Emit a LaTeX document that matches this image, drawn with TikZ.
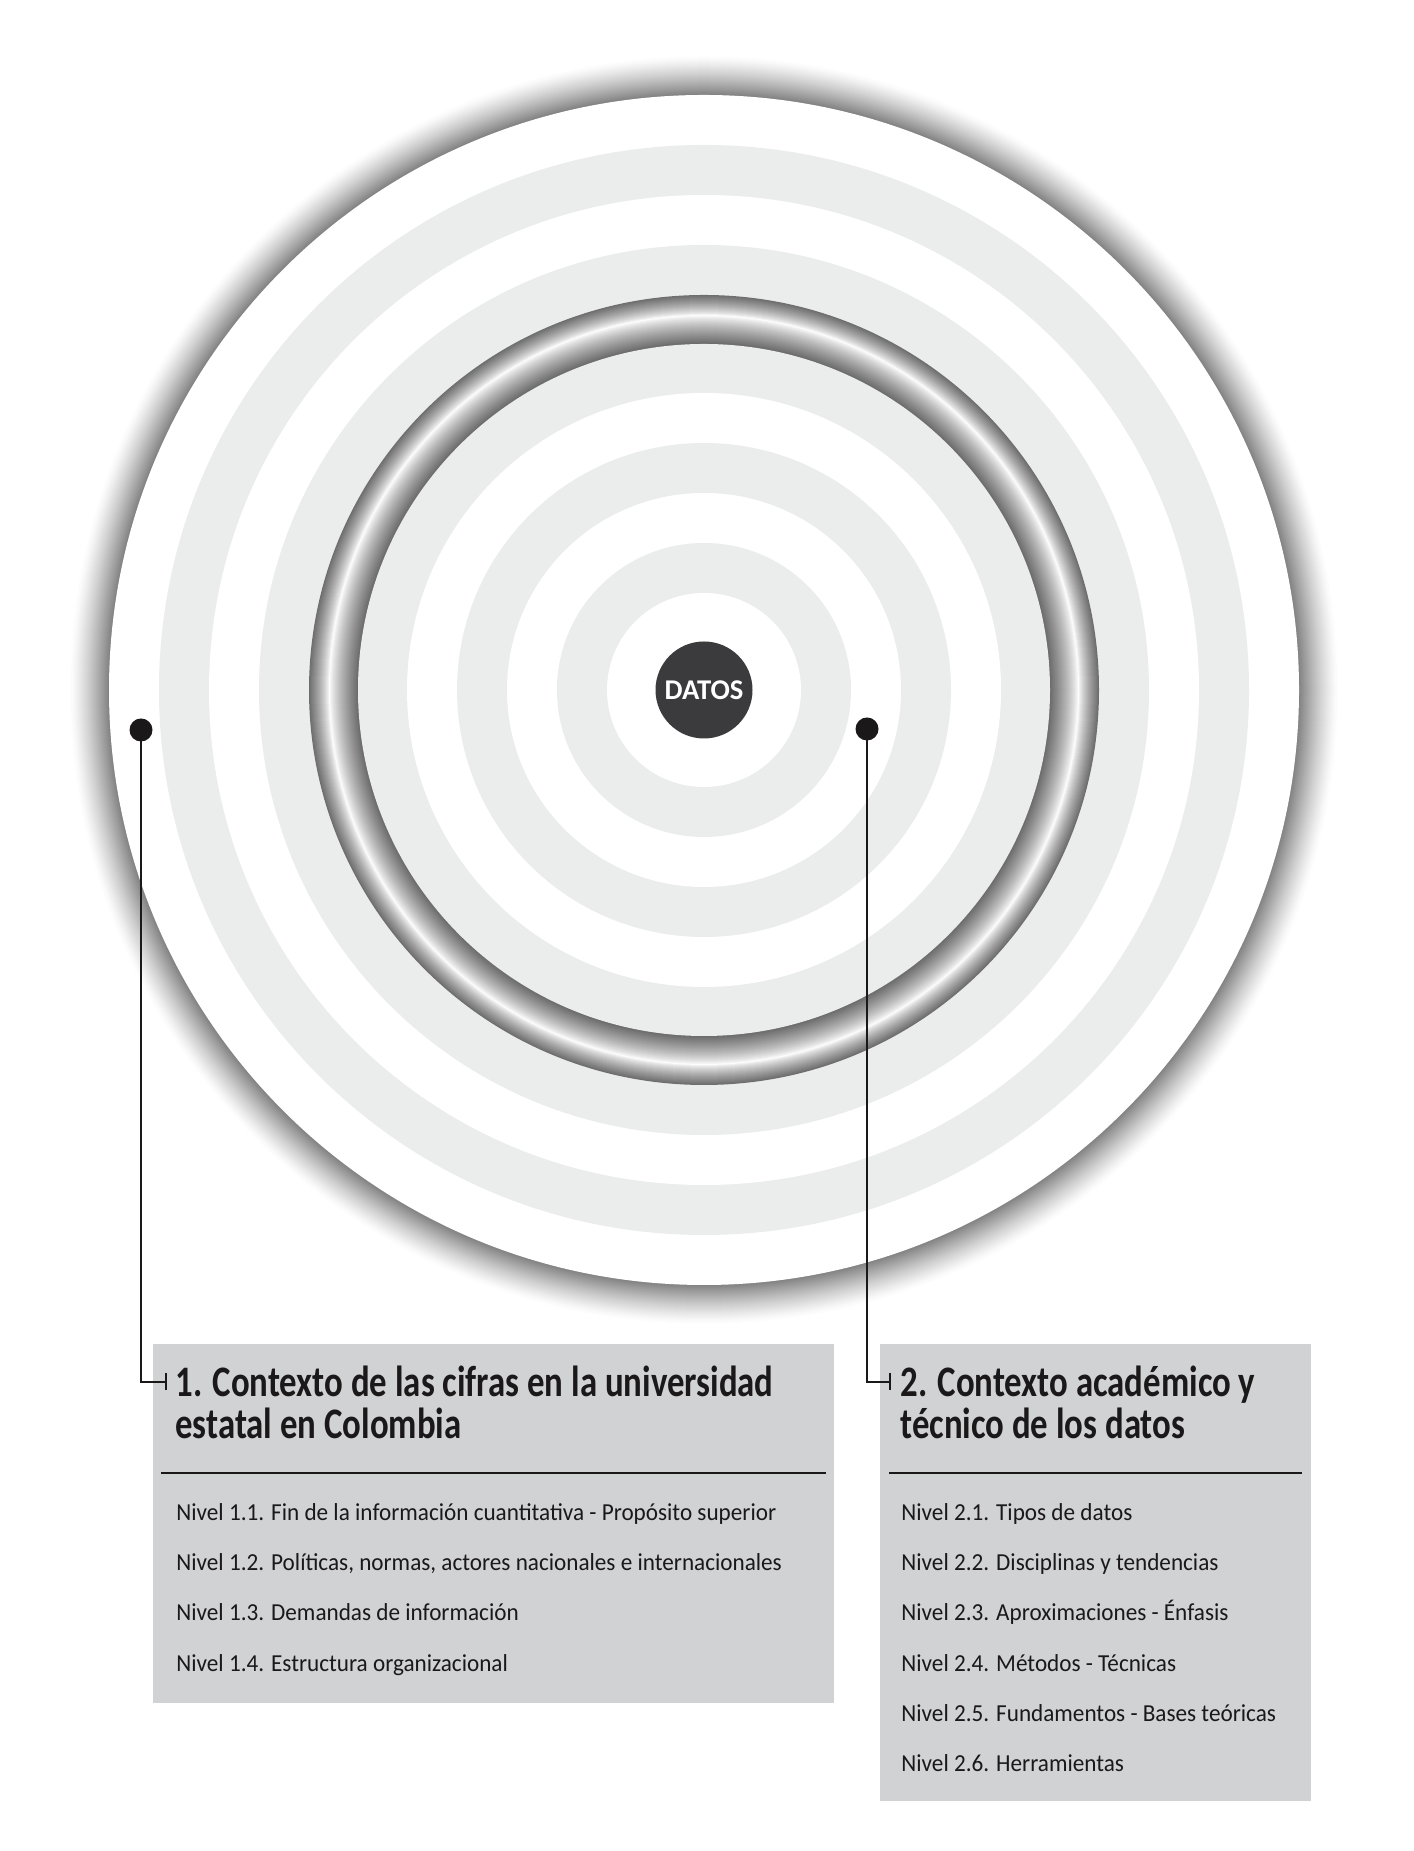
\documentclass[tikz,border=0pt]{standalone}
\usepackage{fontspec}
\setmainfont{Carlito}
\newfontfamily\titlefam{Carlito}[FakeStretch=0.80]
\newfontfamily\itemfam{Carlito}[FakeStretch=0.95]
\definecolor{band}{RGB}{235,236,236}
\definecolor{boxgray}{RGB}{209,210,212}
\definecolor{datosfill}{RGB}{59,59,61}
\definecolor{ink}{RGB}{26,24,25}
\newcommand{\titlefont}{\titlefam\bfseries\fontsize{21.75}{26}\selectfont}
\newcommand{\itemfont}{\itemfam\fontsize{12.2}{14}\selectfont}
\begin{document}
\begin{tikzpicture}[x=0.5pt,y=0.5pt,
  titletext/.style={anchor=base west, inner sep=0pt, font=\titlefont, text=ink},
  itemtext/.style={anchor=base west, inner sep=0pt, font=\itemfont, text=ink},
  panel/.style={fill=boxgray, anchor=north west, inner sep=0pt},
  dotnode/.style={circle, fill=ink, minimum size=11.5pt, inner sep=0pt},
  link/.style={draw=ink, line width=1.3pt},
  tickmark/.style={draw=ink, line width=0.9pt},
  rule/.style={draw=ink, line width=1.35pt}]
\useasboundingbox (0,0) rectangle (1413,1851);
\fill[white] (0,0) rectangle (1413,1851);
\coordinate (C) at (704,1161);
% outer shadow
\foreach \s in {39,38,...,1}{
  \pgfmathsetmacro\k{50*pow(1-\s/40,1.3)}
  \fill[black!\k] (C) circle (595+\s);
}
\fill[white] (C) circle (595);
\fill[band] (C) circle (545);
\fill[white] (C) circle (495);
\fill[band] (C) circle (445);
% metallic ring
\foreach \i in {0,...,48}{
  \pgfmathsetmacro\t{(\i+0.5)/49}
  \pgfmathsetmacro\g{\t<0.42 ? 1-0.58*pow(abs(\t-0.42)/0.42,0.8) : 1-0.58*pow(abs(\t-0.42)/0.58,0.8)}
  \pgfmathsetmacro\k{100*(1-\g)}
  \fill[black!\k] (C) circle (395-\i);
}
\fill[band] (C) circle (346);
\fill[white] (C) circle (297);
\fill[band] (C) circle (247);
\fill[white] (C) circle (197);
\fill[band] (C) circle (147);
\fill[white] (C) circle (97);
\node[circle, fill=datosfill, minimum size=48.5pt, inner sep=0pt, text=white,
      font=\bfseries\fontsize{14.3}{16}\selectfont] (datos) at (C) {DATOS};
% panels
\node[panel, minimum width=340.5pt, minimum height=179.5pt] (box1) at (153,507) {};
\node[panel, minimum width=215.5pt, minimum height=228.5pt] (box2) at (880,507) {};
\draw[rule] (161,378) -- (826,378);
\draw[rule] (889,378) -- (1302,378);
% dots and connectors
\node[dotnode] (dotL) at (141,1121) {};
\node[dotnode] (dotR) at (867,1122) {};
\coordinate (tickL) at (166,469);
\coordinate (tickR) at (890,469);
\draw[link] (dotL.center) |- (tickL);
\draw[link] (dotR.center) |- (tickR);
\draw[tickmark] ([yshift=4.25pt]tickL) -- ([yshift=-4.25pt]tickL);
\draw[tickmark] ([yshift=4.25pt]tickR) -- ([yshift=-4.25pt]tickR);
% titles
\node[titletext] (t1a) at (175,454) {1. Contexto de las cifras en la universidad};
\node[titletext] (t1b) at (175,412) {estatal en Colombia};
\node[titletext] (t2a) at (900,454) {2. Contexto académico y};
\node[titletext] (t2b) at (900,412) {técnico de los datos};
% items box 1
\node[itemtext] (n11) at (176,330) {Nivel 1.1. Fin de la información cuantitativa - Propósito superior};
\node[itemtext] (n12) at (176,280) {Nivel 1.2. Políticas, normas, actores nacionales e internacionales};
\node[itemtext] (n13) at (176,230) {Nivel 1.3. Demandas de información};
\node[itemtext] (n14) at (176,179) {Nivel 1.4. Estructura organizacional};
% items box 2
\node[itemtext] (n21) at (901,330) {Nivel 2.1. Tipos de datos};
\node[itemtext] (n22) at (901,280) {Nivel 2.2. Disciplinas y tendencias};
\node[itemtext] (n23) at (901,230) {Nivel 2.3. Aproximaciones - Énfasis};
\node[itemtext] (n24) at (901,179) {Nivel 2.4. Métodos - Técnicas};
\node[itemtext] (n25) at (901,129) {Nivel 2.5. Fundamentos - Bases teóricas};
\node[itemtext] (n26) at (901,79) {Nivel 2.6. Herramientas};
\end{tikzpicture}
\end{document}
